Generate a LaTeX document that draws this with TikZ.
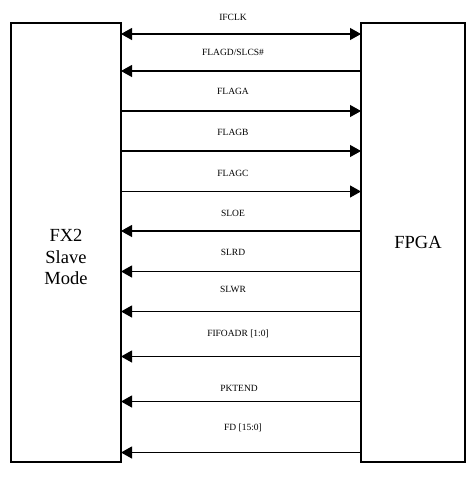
\documentclass[tikz,border=0pt]{standalone}
\usepackage{fontspec}
\setmainfont{Liberation Serif}
\usepackage{tikz}
\usetikzlibrary{arrows.meta, calc}

\tikzset{
  chipbox/.style={draw=black, line width=2pt, fill=white, inner sep=0pt, outer sep=0pt},
  chiptext/.style={font=\fontsize{18.5}{21.7}\selectfont, align=center, inner sep=0pt},
  sigline/.style={line width=1.1pt},
  tofpga/.style={sigline, -{Triangle[length=11pt,width=12pt]}},
  tofxtwo/.style={sigline, -{Triangle[length=11pt,width=12pt]}},
  bothway/.style={sigline, {Triangle[length=11pt,width=12pt]}-{Triangle[length=11pt,width=12pt]}},
  siglabel/.style={font=\fontsize{9.5}{11}\selectfont, anchor=base, inner sep=0pt}
}

\begin{document}
\begin{tikzpicture}[x=1pt, y=-1pt]
  \useasboundingbox[fill=white] (0,0) rectangle (473,482);

  % the two chips
  \node[chipbox, minimum width=110pt, minimum height=439pt] (fx2) at (66,242.5) {};
  \node[chipbox, minimum width=104pt, minimum height=439pt] (fpga) at (413,242.5) {};
  \node[chiptext] (fx2txt) at (66,257) {FX2\\Slave\\Mode};
  \node[chiptext] (fpgatxt) at (418,242.5) {FPGA};

  % signals
  \draw[bothway] (fx2.east |- 0,34) -- (fpga.west |- 0,34);
  \node[siglabel] (ifclk) at (233,20.6) {IFCLK};

  \draw[tofxtwo] (fpga.west |- 0,71) -- (fx2.east |- 0,71);
  \node[siglabel] (flagd) at (233,55.6) {FLAGD/SLCS\#};

  \draw[tofpga] (fx2.east |- 0,111) -- (fpga.west |- 0,111);
  \node[siglabel] (flaga) at (233,94.3) {FLAGA};

  \draw[tofpga] (fx2.east |- 0,151) -- (fpga.west |- 0,151);
  \node[siglabel] (flagb) at (233,135.3) {FLAGB};

  \draw[tofpga] (fx2.east |- 0,191.5) -- (fpga.west |- 0,191.5);
  \node[siglabel] (flagc) at (233,176) {FLAGC};

  \draw[tofxtwo] (fpga.west |- 0,231) -- (fx2.east |- 0,231);
  \node[siglabel] (sloe) at (233,216) {SLOE};

  \draw[tofxtwo] (fpga.west |- 0,271.5) -- (fx2.east |- 0,271.5);
  \node[siglabel] (slrd) at (233,255.3) {SLRD};

  \draw[tofxtwo] (fpga.west |- 0,311.5) -- (fx2.east |- 0,311.5);
  \node[siglabel] (slwr) at (233,292.6) {SLWR};

  \draw[tofxtwo] (fpga.west |- 0,356.5) -- (fx2.east |- 0,356.5);
  \node[siglabel] (fifoadr) at (238,336) {FIFOADR [1:0]};

  \draw[tofxtwo] (fpga.west |- 0,401.5) -- (fx2.east |- 0,401.5);
  \node[siglabel] (pktend) at (239,391) {PKTEND};

  \draw[tofxtwo] (fpga.west |- 0,452.5) -- (fx2.east |- 0,452.5);
  \node[siglabel] (fd) at (243,430.3) {FD [15:0]};
\end{tikzpicture}
\end{document}
